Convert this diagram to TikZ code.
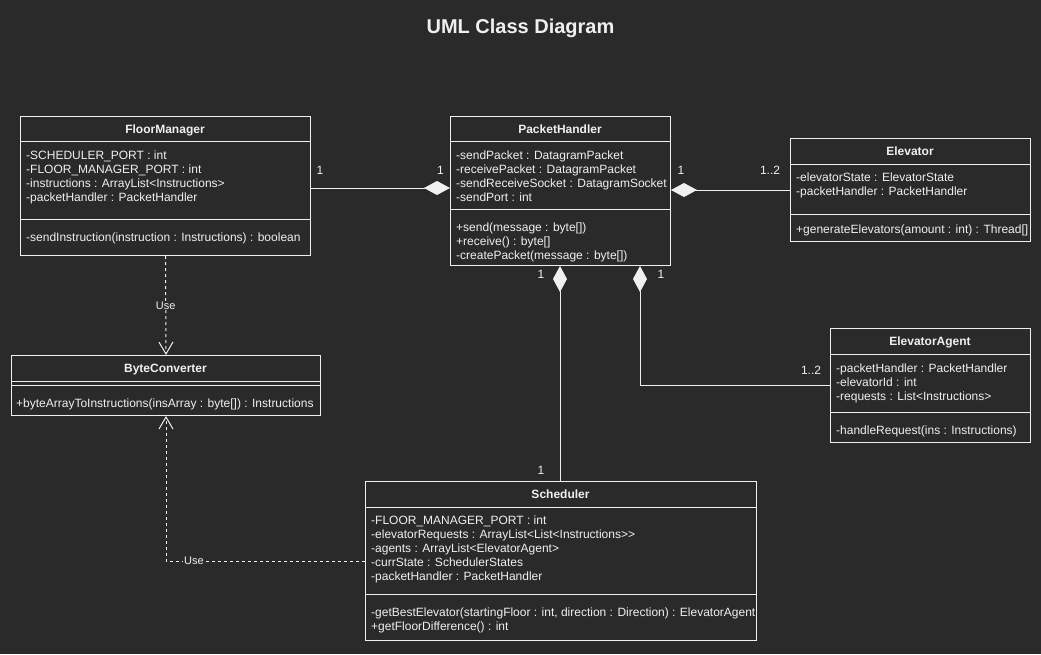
\documentclass[tikz,border=0pt]{standalone}
\usepackage{fontspec}
\setmainfont{Liberation Sans}
\usetikzlibrary{arrows.meta}
\definecolor{bg}{HTML}{2A2A2A}
\definecolor{fg}{HTML}{F0F0F0}
\tikzset{
  classbox/.style={draw=fg, line width=1pt, anchor=north west, inner sep=0pt},
  sepline/.style={draw=fg, line width=1pt},
  ctitle/.style={text=fg, font=\bfseries\fontsize{12}{14}\selectfont, inner sep=0pt, anchor=base},
  ctext/.style={text=fg, font=\fontsize{12}{14}\selectfont, inner sep=0pt, anchor=base west},
  mult/.style={text=fg, font=\fontsize{12}{14}\selectfont, inner sep=0pt},
  assoc/.style={draw=fg, line width=1pt, -{Diamond[length=26pt,width=14pt,fill=fg]}},
  usedep/.style={draw=fg, line width=1pt, dash pattern=on 3pt off 3pt, -{Straight Barb[length=12pt,width=14pt]}},
  uselabel/.style={fill=bg, text=fg, font=\fontsize{11}{13}\selectfont, inner sep=1pt},
}
\begin{document}
\begin{tikzpicture}[x=1pt,y=-1pt]
\fill[bg] (0,0) rectangle (1041,654);
\useasboundingbox (0,0) rectangle (1041,654);

\node[text=fg, font=\bfseries\fontsize{20}{24}\selectfont, inner sep=0pt, anchor=base] (title) at (520.5,33) {UML Class Diagram};

% FloorManager
\node[classbox, minimum width=290pt, minimum height=139pt] (fm) at (20,116) {};
\draw[sepline] (20,141) -- (310,141);
\draw[sepline] (20,219) -- (310,219);
\node[ctitle] (fmT) at (165,133) {FloorManager};
\node[ctext] (fmA1) at (26,159.3) {-SCHEDULER\_PORT : int};
\node[ctext] (fmA2) at (26,173.3) {-FLOOR\_MANAGER\_PORT : int};
\node[ctext] (fmA3) at (26,187.3) {-instructions : ArrayList<Instructions>};
\node[ctext] (fmA4) at (26,201.3) {-packetHandler : PacketHandler};
\node[ctext] (fmM1) at (26,241.3) {-sendInstruction(instruction : Instructions) : boolean};

% PacketHandler
\node[classbox, minimum width=220pt, minimum height=149pt] (ph) at (450,116) {};
\draw[sepline] (450,141) -- (670,141);
\draw[sepline] (450,209) -- (670,209);
\node[ctitle] (phT) at (560,133) {PacketHandler};
\node[ctext] (phA1) at (456,159.3) {-sendPacket : DatagramPacket};
\node[ctext] (phA2) at (456,173.3) {-receivePacket : DatagramPacket};
\node[ctext] (phA3) at (456,187.3) {-sendReceiveSocket : DatagramSocket};
\node[ctext] (phA4) at (456,201.3) {-sendPort : int};
\node[ctext] (phM1) at (456,231.3) {+send(message : byte[])};
\node[ctext] (phM2) at (456,245.3) {+receive() : byte[]};
\node[ctext] (phM3) at (456,259.3) {-createPacket(message : byte[])};

% Elevator
\node[classbox, minimum width=240pt, minimum height=103pt] (el) at (790,138) {};
\draw[sepline] (790,164) -- (1030,164);
\draw[sepline] (790,214) -- (1030,214);
\node[ctitle] (elT) at (910,155.5) {Elevator};
\node[ctext] (elA1) at (796,181.3) {-elevatorState : ElevatorState};
\node[ctext] (elA2) at (796,195.3) {-packetHandler : PacketHandler};
\node[ctext] (elM1) at (796,233.3) {+generateElevators(amount : int) : Thread[]};

% ElevatorAgent
\node[classbox, minimum width=200pt, minimum height=114pt] (ea) at (830,328) {};
\draw[sepline] (830,354) -- (1030,354);
\draw[sepline] (830,412) -- (1030,412);
\node[ctitle] (eaT) at (930,345.5) {ElevatorAgent};
\node[ctext] (eaA1) at (836,372.3) {-packetHandler : PacketHandler};
\node[ctext] (eaA2) at (836,386.3) {-elevatorId : int};
\node[ctext] (eaA3) at (836,400.3) {-requests : List<Instructions>};
\node[ctext] (eaM1) at (836,434.3) {-handleRequest(ins : Instructions)};

% ByteConverter
\node[classbox, minimum width=309pt, minimum height=60pt] (bc) at (11,355) {};
\draw[sepline] (11,381) -- (320,381);
\draw[sepline] (11,385) -- (320,385);
\node[ctitle] (bcT) at (165.5,372.5) {ByteConverter};
\node[ctext] (bcM1) at (16,407.3) {+byteArrayToInstructions(insArray : byte[]) : Instructions};

% Scheduler
\node[classbox, minimum width=391pt, minimum height=159pt] (sc) at (365,481) {};
\draw[sepline] (365,507) -- (756,507);
\draw[sepline] (365,594) -- (756,594);
\node[ctitle] (scT) at (560.5,498.5) {Scheduler};
\node[ctext] (scA1) at (371,524.3) {-FLOOR\_MANAGER\_PORT : int};
\node[ctext] (scA2) at (371,538.3) {-elevatorRequests : ArrayList<List<Instructions>{}>};
\node[ctext] (scA3) at (371,552.3) {-agents : ArrayList<ElevatorAgent>};
\node[ctext] (scA4) at (371,566.3) {-currState : SchedulerStates};
\node[ctext] (scA5) at (371,580.3) {-packetHandler : PacketHandler};
\node[ctext] (scM1) at (371,616.3) {-getBestElevator(startingFloor : int, direction : Direction) : ElevatorAgent};
\node[ctext] (scM2) at (371,630.3) {+getFloorDifference() : int};

% helper coordinates
\coordinate (r188) at (0,188);
\coordinate (k560) at (560,0);
\coordinate (k640) at (640,0);

% associations (diamond at PacketHandler)
\draw[assoc] (fm.east |- r188) -- (ph.west |- r188);
\draw[assoc] (el.west) -- (ph.east |- el.west);
\draw[assoc] (sc.north -| k560) -- (ph.south -| k560);
\draw[assoc] (ea.west) -| (ph.south -| k640);

% multiplicities
\node[mult] (m1) at (320,170) {1};
\node[mult] (m2) at (440.5,170) {1};
\node[mult] (m3) at (681,170) {1};
\node[mult] (m4) at (770,170) {1..2};
\node[mult] (m5) at (541,274) {1};
\node[mult] (m6) at (661,274) {1};
\node[mult] (m7) at (541,470) {1};
\node[mult] (m8) at (811,370) {1..2};

% dependencies
\draw[usedep] (fm.south) -- node[uselabel] (u1) {Use} (bc.north);
\draw[usedep] (sc.west) -| node[uselabel, pos=0.43] (u2) {Use} (bc.south);
\end{tikzpicture}
\end{document}
